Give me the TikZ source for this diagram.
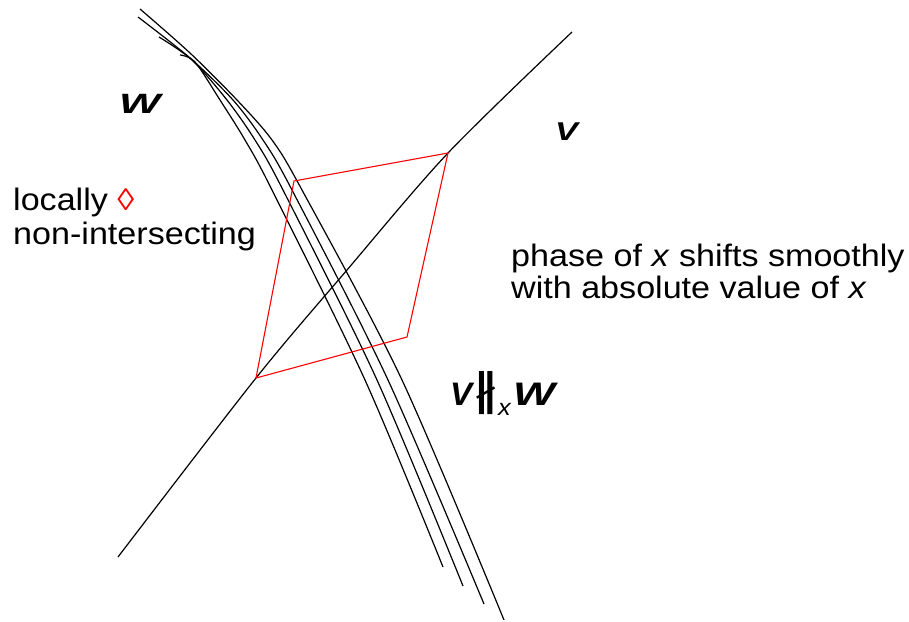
\documentclass[tikz,border=0pt]{standalone}
\usepackage{fontspec}
\setmainfont{Liberation Sans}[FakeStretch=1.1]
\newfontfamily\djv{DejaVu Sans}
\usepackage{graphicx}
\begin{document}
\begin{tikzpicture}[x=1pt,y=-1pt,
  curve/.style={line width=1.2pt, black},
  redq/.style={line width=1.1pt, red},
  lbl/.style={inner sep=0pt, anchor=base west, font=\fontsize{31}{33}\selectfont}]
\useasboundingbox (0,0) rectangle (909,621);
% line V
\draw[curve] plot[smooth] coordinates {(118,557) (256,378) (347,270) (448,153) (572,32)};
% bundle W
\draw[curve] plot[smooth] coordinates {(140,9) (190,53) (237,100) (272,140) (302,190) (402,380) (504,620)};
\draw[curve] plot[smooth] coordinates {(138,17) (190,58) (233,100) (263,140) (292,190) (388,380) (484,604)};
\draw[curve] plot[smooth] coordinates {(159,37) (192,60) (227,100) (255,140) (283,190) (377,380) (463,586)};
\draw[curve] plot[smooth] coordinates {(180,55) (195,62) (220,100) (245,140) (272,190) (365,380) (443,567)};
% red quadrilateral
\draw[redq] (294,181) -- (448,153) -- (407,337) -- (256,378) -- cycle;
% labels
\node[lbl] (W) at (119,113) {\scalebox{1.28}[0.9]{\bfseries\itshape W}};
\node[lbl] (V) at (555,140) {\scalebox{1.0}[0.83]{\bfseries\itshape V}};
\node[lbl] (loc1) at (13,210.7) {locally {\color{red}◊}};
\node[lbl] (loc2) at (13,244) {non-intersecting};
\node[lbl] (ph1) at (511,266) {phase of \textit{x} shifts smoothly};
\node[lbl] (ph2) at (511,298.3) {with absolute value of \textit{x}};
\node[lbl] (VW) at (450,405) {\makebox[24pt][l]{\scalebox{0.97}[1.05]{\bfseries\itshape V}}\makebox[24pt][l]{\raisebox{0pt}{\fontsize{44}{44}\selectfont\djv\bfseries ∦}}\makebox[15pt][l]{\raisebox{-10pt}{\fontsize{23}{23}\selectfont\itshape x}}\scalebox{1.3}[1.05]{\bfseries\itshape W}};
\end{tikzpicture}
\end{document}
